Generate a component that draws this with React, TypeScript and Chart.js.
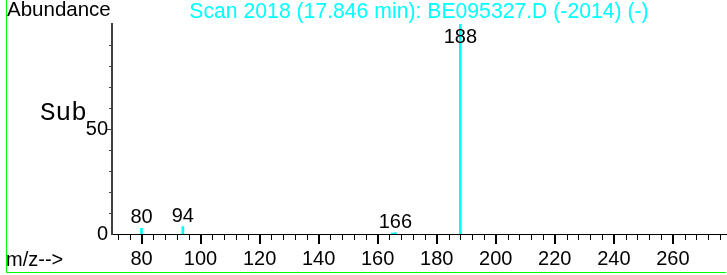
import React, { useEffect, useRef } from 'react';
import { Chart, registerables } from 'chart.js';

Chart.register(...registerables);

// ---- data ----
const mzValues = [80, 94, 165, 166, 188];
const abundances = [2.7, 3.5, 0.5, 0.7, 100];
const labeledPeaks = [80, 94, 166, 188];
const xTickLabels = [80, 100, 120, 140, 160, 180, 200, 220, 240, 260];
const yTickLabels = [0, 50];
const TITLE = 'Scan 2018 (17.846 min): BE095327.D (-2014) (-)';
const Y_AXIS_TITLE = 'Abundance';
const X_AXIS_TITLE = 'm/z-->';
const SUB_TEXT = 'Sub';

const X_MIN = 70;
const X_MAX = 278;
const Y_MIN = 0;
const Y_MAX = 100;
const X_MAJOR_STEP = 20;
const X_MINOR_STEP = 4;
const Y_MINOR_STEP = 10;

const SANS = '"Liberation Sans", Arial, sans-serif';
const MONO = '"Liberation Mono", "Courier New", monospace';
const CYAN = '#00ffff';
const GREEN = '#00ff00';

const decorPlugin = {
  id: 'decor',
  afterDatasetsDraw(chart: any) {
    const ctx = chart.ctx;
    const xs = chart.scales.x;
    const ys = chart.scales.y;
    const area = chart.chartArea;
    ctx.save();
    // peak labels
    ctx.font = `20px ${SANS}`;
    ctx.fillStyle = '#000';
    ctx.textAlign = 'center';
    ctx.textBaseline = 'alphabetic';
    labeledPeaks.forEach((mz) => {
      const i = mzValues.indexOf(mz);
      const px = xs.getPixelForValue(mz);
      const top = ys.getPixelForValue(abundances[i]);
      const base = Math.max(top - 5, area.top + 19);
      ctx.fillText(String(mz), px, base);
    });
    ctx.restore();
  },
  afterDraw(chart: any) {
    const ctx = chart.ctx;
    const xs = chart.scales.x;
    const ys = chart.scales.y;
    const area = chart.chartArea;
    const W = chart.width;
    ctx.save();
    // green frame (left + bottom)
    ctx.strokeStyle = GREEN;
    ctx.lineWidth = 1;
    ctx.beginPath();
    ctx.moveTo(6.5, 0);
    ctx.lineTo(6.5, 272.5);
    ctx.lineTo(W - 1, 272.5);
    ctx.stroke();

    // x tick marks
    ctx.fillStyle = '#000';
    for (let v = X_MIN + 2; v <= X_MAX; v += X_MINOR_STEP) {
      const p = Math.round(xs.getPixelForValue(v));
      const major = v % X_MAJOR_STEP === 0;
      ctx.fillRect(p - (major ? 1 : 0), area.bottom, major ? 2 : 1, major ? 10 : 6);
    }
    // y tick marks
    ctx.fillStyle = '#404040';
    for (let v = Y_MIN + Y_MINOR_STEP; v < Y_MAX; v += Y_MINOR_STEP) {
      const p = Math.round(ys.getPixelForValue(v));
      const len = yTickLabels.includes(v) ? 4 : 2;
      ctx.fillRect(area.left - 1 - len, p, len, 1);
    }

    // texts
    ctx.fillStyle = '#000';
    ctx.textAlign = 'left';
    ctx.textBaseline = 'alphabetic';
    ctx.font = `20.5px ${SANS}`;
    ctx.fillText(Y_AXIS_TITLE, 7, 16);
    ctx.font = `20px ${SANS}`;
    ctx.fillText(X_AXIS_TITLE, 6, 266);
    ctx.font = `26px ${MONO}`;
    ctx.fillText(SUB_TEXT, 40, 120);
    ctx.restore();
  },
};

export default function App() {
  const ref = useRef<HTMLCanvasElement>(null);

  useEffect(() => {
    document.body.style.margin = '0';
    const canvas = ref.current;
    if (!canvas) return;
    const chart = new Chart(canvas, {
      type: 'bar',
      data: {
        datasets: [
          {
            data: mzValues.map((x, i) => ({ x, y: abundances[i] })),
            backgroundColor: CYAN,
            borderWidth: 0,
            barThickness: 2,
          },
        ],
      },
      options: {
        responsive: false,
        animation: false,
        layout: { padding: { left: 0, right: 1, top: 0, bottom: 0 } },
        plugins: {
          legend: { display: false },
          tooltip: { enabled: false },
          title: {
            display: true,
            text: TITLE,
            color: CYAN,
            fullSize: false,
            font: { family: SANS, size: 21.2, weight: 'normal', lineHeight: 24 / 21.2 },
            padding: { top: 0, bottom: 0 },
          },
        },
        scales: {
          x: {
            type: 'linear',
            min: X_MIN,
            max: X_MAX,
            offset: false,
            grid: { display: false, drawTicks: false, tickLength: 0 },
            border: { display: true, color: '#000', width: 1 },
            ticks: {
              stepSize: X_MAJOR_STEP,
              includeBounds: false,
              autoSkip: false,
              maxRotation: 0,
              padding: 13,
              color: '#000',
              font: { family: SANS, size: 20 },
              callback: (v: any) => (xTickLabels.includes(Number(v)) ? String(v) : ''),
            },
            afterFit: (s: any) => {
              s.height = 41;
            },
          },
          y: {
            type: 'linear',
            min: Y_MIN,
            max: Y_MAX,
            grid: { display: false, drawTicks: false, tickLength: 0 },
            border: { display: true, color: '#404040', width: 2 },
            ticks: {
              stepSize: 50,
              padding: 4,
              color: '#000',
              font: { family: SANS, size: 20 },
              callback: (v: any) => (yTickLabels.includes(Number(v)) ? String(v) : ''),
            },
            afterFit: (s: any) => {
              s.width = 112;
            },
          },
        },
      } as any,
      plugins: [decorPlugin],
    });
    return () => chart.destroy();
  }, []);

  return (
    <div style={{ width: 727, height: 275, background: '#fff' }}>
      <canvas ref={ref} width={727} height={275} style={{ display: 'block' }} />
    </div>
  );
}
